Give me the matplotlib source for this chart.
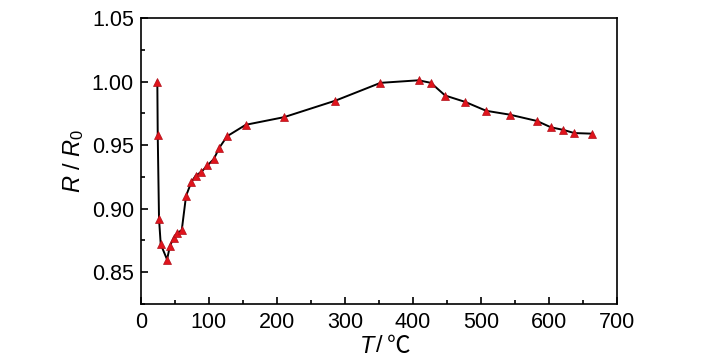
import matplotlib
matplotlib.use("Agg")
import matplotlib.pyplot as plt
from matplotlib.ticker import MultipleLocator, FormatStrFormatter

T = [24.4, 25.0, 26.9, 29.4, 38.7, 43.1, 48.5, 53.8, 60.3, 66.6, 74.4, 80.9,
     89.2, 98.0, 107.4, 115.6, 127.0, 154.4, 210.7, 286.2, 352.4, 408.3,
     426.5, 447.5, 476.9, 507.8, 542.2, 582.4, 603.0, 621.0, 637.2, 664.0]
R = [1.000, 0.958, 0.892, 0.872, 0.860, 0.871, 0.877, 0.881, 0.883, 0.910,
     0.921, 0.926, 0.929, 0.934, 0.939, 0.948, 0.957, 0.966, 0.972, 0.985,
     0.999, 1.001, 0.999, 0.989, 0.984, 0.977, 0.974, 0.969, 0.964, 0.962,
     0.9595, 0.959]

plt.rcParams['font.family'] = ['Liberation Sans', 'DejaVu Sans']
plt.rcParams['mathtext.fontset'] = 'custom'
plt.rcParams['mathtext.rm'] = 'Liberation Sans'
plt.rcParams['mathtext.it'] = 'Liberation Sans:italic'

fig = plt.figure(figsize=(7.28, 3.64), dpi=100)
ax = fig.add_axes([0.1933, 0.1648, 0.8475 - 0.1933, 0.9505 - 0.1648])

ax.plot(T, R, color='black', lw=1.4, marker='^', markersize=5.5,
        markerfacecolor='#e0141c', markeredgecolor='#b0101a', markeredgewidth=0.5)

ax.set_xlim(0, 700)
ax.set_ylim(0.825, 1.05)
ax.xaxis.set_major_locator(MultipleLocator(100))
ax.xaxis.set_minor_locator(MultipleLocator(50))
ax.yaxis.set_major_locator(MultipleLocator(0.05))
ax.yaxis.set_minor_locator(MultipleLocator(0.025))
ax.yaxis.set_major_formatter(FormatStrFormatter('%.2f'))
ax.tick_params(which='both', direction='in', labelsize=15.5, width=1.2)
ax.tick_params(axis='x', which='major', length=5, pad=6)
ax.tick_params(axis='y', which='major', length=5, pad=5)
ax.tick_params(which='minor', length=3)
for s in ax.spines.values():
    s.set_linewidth(1.2)

# x label: italic T, then " / ℃"
yl = (304 - 346) / 286.0
ax.text(0.49, yl, 'T', transform=ax.transAxes, ha='right', va='center',
        fontsize=17, fontstyle='italic')
ax.text(0.494, yl, '/', transform=ax.transAxes, ha='left', va='center',
        fontsize=17)
ax.text(0.517, yl, '℃', transform=ax.transAxes, ha='left', va='center',
        fontsize=17, family=['Noto Sans CJK SC', 'DejaVu Sans'])

ax.set_ylabel(r'$\mathit{R}\ /\ \mathit{R}_0$', fontsize=17, labelpad=4)

fig.savefig('out.png', dpi=100)
